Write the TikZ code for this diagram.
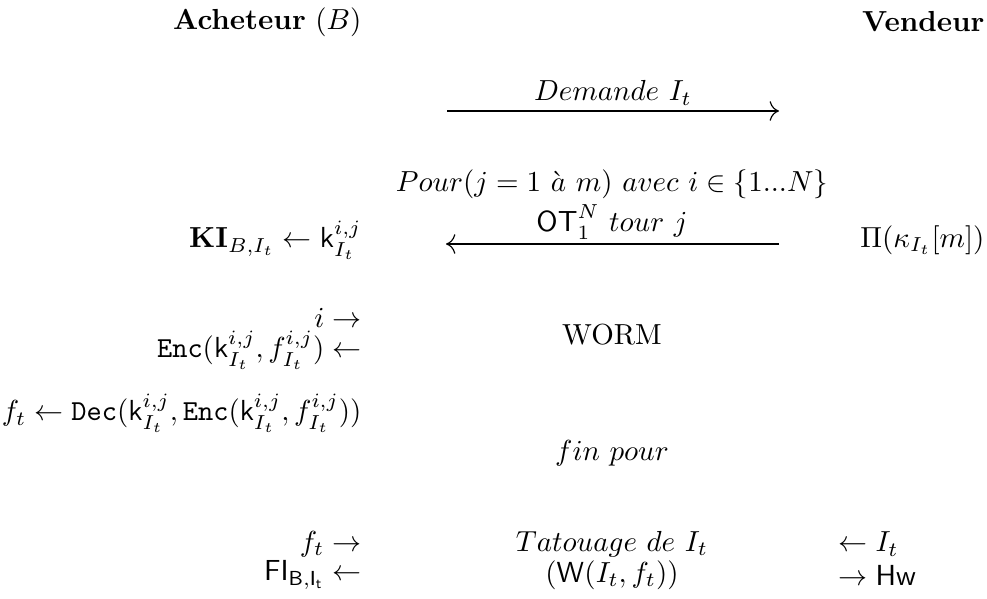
\documentclass[tikz,border=0pt]{standalone}
\usepackage{amsmath,amssymb}
\usetikzlibrary{arrows.meta}
\begin{document}
\begin{tikzpicture}[
    x=0.01212cm, y=-0.01212cm,
    lft/.style={anchor=east, inner sep=0pt},
    rgt/.style={anchor=west, inner sep=0pt},
    mid/.style={inner sep=0pt},
    arrow/.style={-{Computer Modern Rightarrow[scale=1.3]}}
]
\useasboundingbox (0,0) rectangle (987,599);

% en-tetes
\node (acheteur) [lft] at (362,22) {\textbf{Acheteur} $(B)$};
\node (vendeur) [lft] at (985,22) {\textbf{Vendeur}};

% demande
\node (demande) [mid] at (613,93) {$Demande\ I_t$};
\coordinate (dem-a) at (447,111);
\coordinate (dem-b) at (779,111);
\draw [arrow] (dem-a) -- (dem-b);

% boucle OT
\node (pour) [mid] at (612,184) {$Pour(j=1\ \grave{a}\ m)\ avec\ i\in\{1...N\}$};
\node (ot) [mid] at (612,222) {$\mathsf{OT}_1^N\ tour\ j$};
\coordinate (ot-a) at (779,244);
\coordinate (ot-b) at (446,244);
\draw [arrow] (ot-a) -- (ot-b);
\node (ki) [lft] at (362,240) {$\mathbf{KI}_{B,I_t} \leftarrow \mathsf{k}_{I_t}^{i,j}$};
\node (pi) [lft] at (985,240) {$\Pi(\kappa_{I_t}[m])$};

\node (i) [lft] at (362,318) {$i \rightarrow$};
\node (worm) [mid] at (612,335) {WORM};
\node (enc) [lft] at (362,350) {$\mathtt{Enc}(\mathsf{k}_{I_t}^{i,j}, f_{I_t}^{i,j}) \leftarrow$};
\node (dec) [lft] at (362,413) {$f_t \leftarrow \mathtt{Dec}(\mathsf{k}_{I_t}^{i,j}, \mathtt{Enc}(\mathsf{k}_{I_t}^{i,j}, f_{I_t}^{i,j}))$};
\node (fin) [mid] at (612,453) {$fin\ pour$};

% tatouage
\node (ft) [lft] at (362,544) {$f_t \rightarrow$};
\node (tat) [mid] at (612,544) {$Tatouage\ de\ I_t$};
\node (it) [rgt] at (838,544) {$\leftarrow I_t$};
\node (fi) [lft] at (362,575) {$\mathsf{FI}_{\mathsf{B,I_t}} \leftarrow$};
\node (w) [mid] at (612,575) {$(\mathsf{W}(I_t,f_t))$};
\node (hw) [rgt] at (838,575) {$\rightarrow \mathsf{Hw}$};

\end{tikzpicture}
\end{document}
